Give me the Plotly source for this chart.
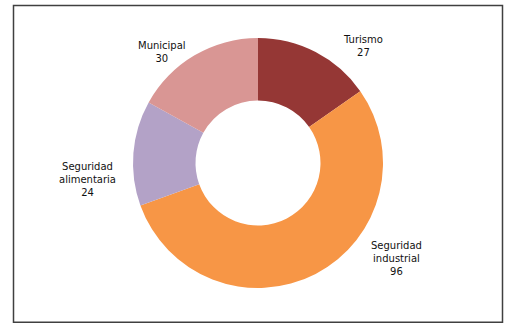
import plotly.graph_objects as go

# Donut chart of cases by area
areas = ["Turismo", "Seguridad<br>industrial", "Seguridad<br>alimentaria", "Municipal"]
counts = [27, 96, 24, 30]
colors = ["#953735", "#F79646", "#B3A2C7", "#D99694"]

# label anchor points (pixels from top-left) for each area
label_x = [363, 396, 87, 162]
label_y = [46, 258, 179, 52]

W, H = 510, 324
cx, cy, r = 258, 163, 125

fig = go.Figure(go.Pie(
    labels=areas,
    values=counts,
    hole=0.5,
    sort=False,
    direction="clockwise",
    rotation=0,
    marker=dict(colors=colors, line=dict(width=0)),
    textinfo="none",
    hoverinfo="label+value",
    showlegend=False,
    domain=dict(x=[(cx - r) / W, (cx + r) / W],
                y=[(H - cy - r) / H, (H - cy + r) / H]),
))

for name, val, lx, ly in zip(areas, counts, label_x, label_y):
    fig.add_annotation(
        x=lx / W, y=1 - ly / H, xref="paper", yref="paper",
        text=f"{name}<br>{val}", showarrow=False,
        xanchor="center", yanchor="middle", align="center",
        font=dict(family="DejaVu Sans", size=10, color="#111111"),
    )

# outer frame
fig.add_shape(type="rect", xref="paper", yref="paper",
              x0=13.5 / W, x1=502.5 / W, y0=1 - 322.3 / H, y1=1 - 5.5 / H,
              line=dict(color="#404040", width=1.5), fillcolor="rgba(0,0,0,0)")

fig.update_layout(
    width=W, height=H,
    margin=dict(l=0, r=0, t=0, b=0),
    paper_bgcolor="white", plot_bgcolor="white",
)

fig.write_html("out.html")
